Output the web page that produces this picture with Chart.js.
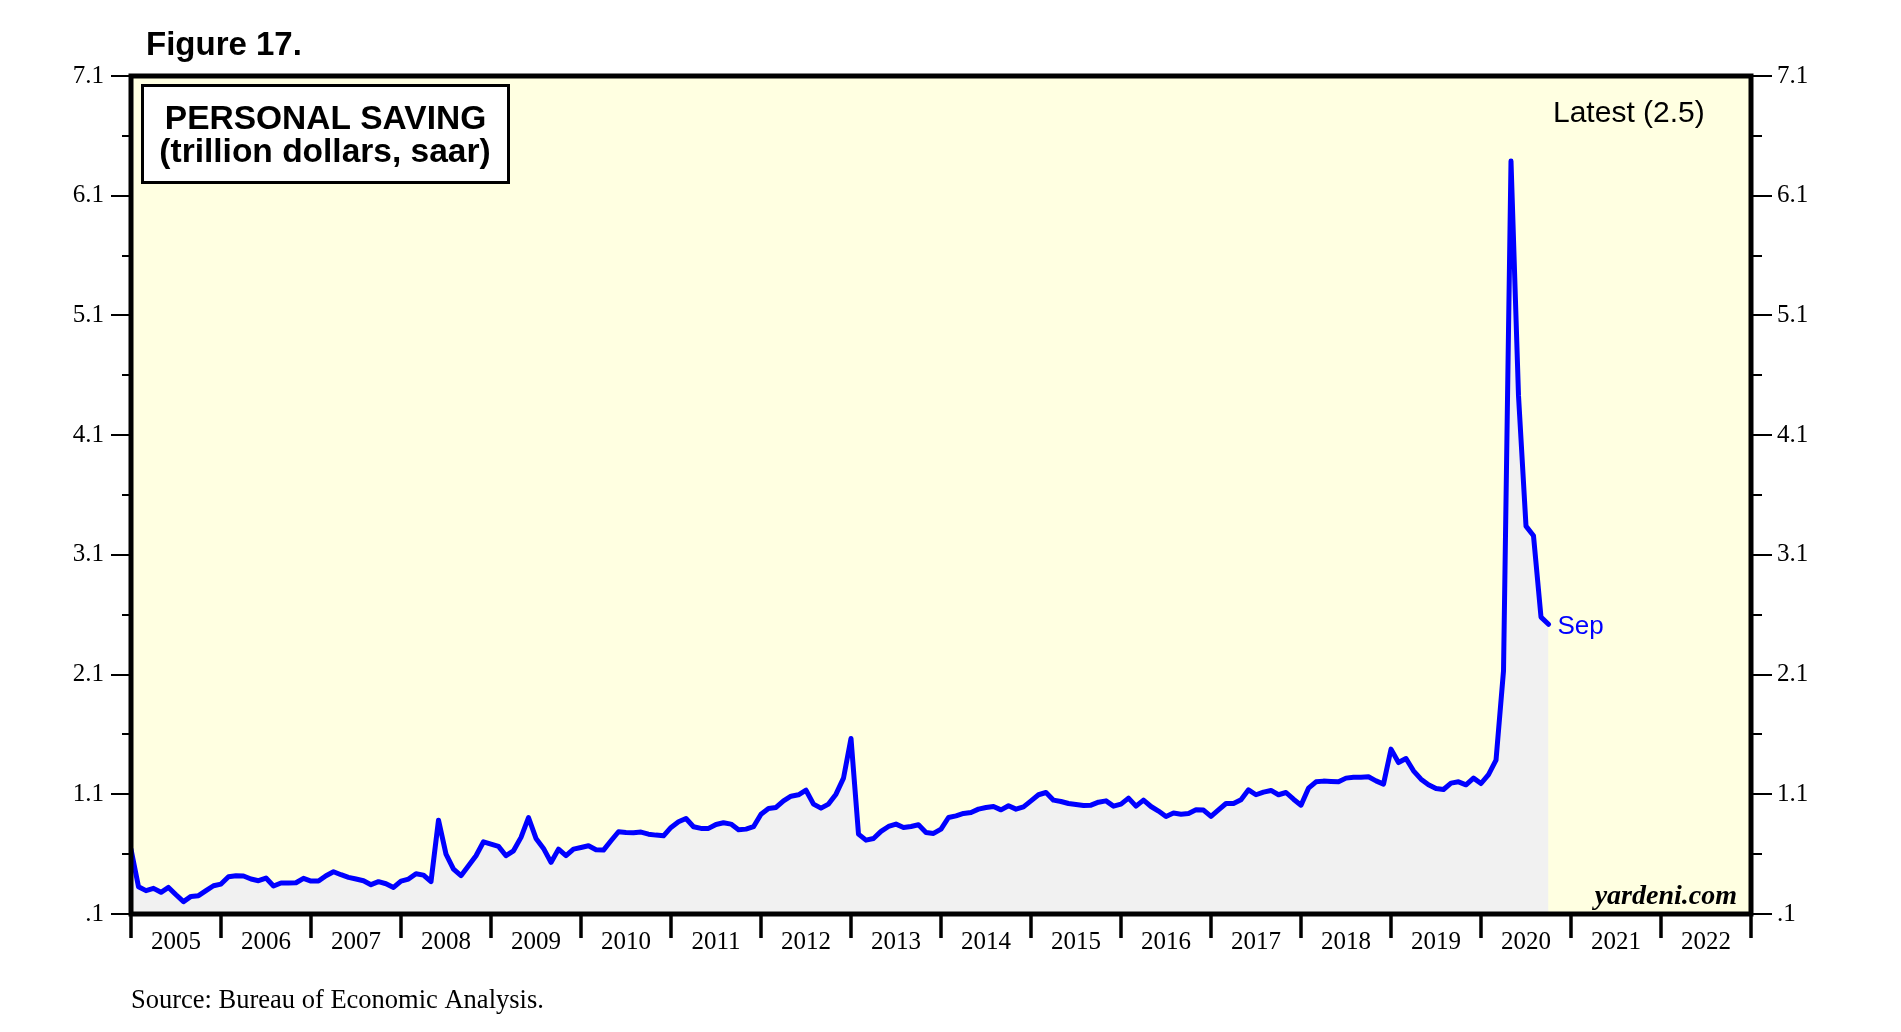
<!DOCTYPE html>
<html><head><meta charset="utf-8">
<script src="https://cdn.jsdelivr.net/npm/chart.js@4.4.1/dist/chart.umd.min.js"></script>
<style>html,body{margin:0;padding:0;background:#fff;overflow:hidden}#wrap{position:relative;width:1901px;height:1032px}canvas{display:block}</style>
</head><body><div id="wrap"><canvas id="c" width="1901" height="1032"></canvas></div>
<script>
// ---- data ----
const startYear = 2004, startMonth = 12; // first observation (month-end)
const saving = [
 0.642,
 0.328,0.295,0.314,0.281,0.322,0.261,0.203,0.247,0.253,0.295,0.336,0.350,
 0.411,0.420,0.417,0.392,0.378,0.400,0.334,0.359,0.359,0.361,0.398,0.375,
 0.375,0.420,0.453,0.428,0.406,0.392,0.378,0.345,0.370,0.353,0.322,0.375,
 0.392,0.436,0.425,0.370,0.884,0.600,0.475,0.420,0.503,0.587,0.703,0.684,
 0.665,0.587,0.628,0.740,0.906,0.731,0.648,0.531,0.642,0.587,0.642,0.656,
 0.670,0.637,0.634,0.712,0.787,0.781,0.779,0.784,0.767,0.759,0.753,0.823,
 0.870,0.898,0.829,0.815,0.815,0.848,0.862,0.851,0.804,0.809,0.829,0.934,
 0.982,0.990,1.045,1.084,1.096,1.134,1.018,0.984,1.018,1.101,1.235,1.566,
 0.767,0.717,0.731,0.790,0.831,0.851,0.823,0.831,0.845,0.781,0.773,0.809,
 0.906,0.920,0.940,0.948,0.976,0.990,0.998,0.970,1.004,0.976,0.995,1.045,
 1.096,1.115,1.051,1.040,1.023,1.015,1.007,1.009,1.034,1.045,1.001,1.018,
 1.068,1.001,1.051,0.998,0.960,0.915,0.943,0.934,0.940,0.970,0.968,0.915,
 0.970,1.023,1.023,1.054,1.137,1.096,1.118,1.132,1.096,1.115,1.059,1.009,
 1.151,1.204,1.210,1.207,1.204,1.235,1.243,1.243,1.246,1.212,1.185,1.477,
 1.365,1.399,1.296,1.226,1.179,1.148,1.140,1.193,1.204,1.179,1.235,1.190,
 1.265,1.385,2.130,6.390,4.430,3.340,3.260,2.580,2.520
];
const months = saving.map((_, i) => {
  const t = startYear * 12 + (startMonth - 1) + i;
  return Math.floor(t / 12) + '-' + String(t % 12 + 1).padStart(2, '0');
});
const yTickValues = [0.1,0.6,1.1,1.6,2.1,2.6,3.1,3.6,4.1,4.6,5.1,5.6,6.1,6.6,7.1];
const yTickLabels = ['.1','','1.1','','2.1','','3.1','','4.1','','5.1','','6.1','','7.1'];
const yearLabels = ['2005','2006','2007','2008','2009','2010','2011','2012','2013','2014','2015','2016','2017','2018','2019','2020','2021','2022'];
const lastMonthName = 'Sep';

// ---- build ----
const points = months.map((m, i) => {
  const [yy, mm] = m.split('-').map(Number);
  return { x: yy + mm / 12, y: saving[i] };
});
const firstYear = Number(yearLabels[0]);
const lastYear = Number(yearLabels[yearLabels.length - 1]) + 1;

const SERIF = '"Liberation Serif","Times New Roman",serif';
const SANS = '"Liberation Sans",Arial,sans-serif';

const yAxisBase = (pos, width, pad) => ({
  type: 'linear', position: pos, min: yTickValues[0], max: yTickValues[yTickValues.length - 1],
  display: true,
  grid: { display: false, drawTicks: false }, border: { display: false },
  afterBuildTicks: s => { s.ticks = yTickValues.map(v => ({ value: v })); },
  afterFit: s => { s.width = width; },
  ticks: { autoSkip: false, padding: pad, color: '#000', font: { family: SERIF, size: 25 },
    callback: (v, i) => yTickLabels[i] }
});

const deco = {
  id: 'deco',
  beforeDraw(chart) {
    const { ctx, chartArea: a } = chart;
    ctx.save();
    ctx.fillStyle = '#ffffe1';
    ctx.fillRect(a.left, a.top, a.right - a.left, a.bottom - a.top);
    ctx.restore();
  },
  afterDraw(chart) {
    const { ctx, chartArea: a, scales } = chart;
    const ys = scales.y, xs = scales.x;
    ctx.save();
    ctx.strokeStyle = '#000';
    // y ticks
    ctx.lineWidth = 2;
    yTickValues.forEach((v, i) => {
      const py = Math.round(ys.getPixelForValue(v));
      const major = yTickLabels[i] !== '';
      ctx.beginPath();
      ctx.moveTo(a.left - (major ? 20 : 9), py); ctx.lineTo(a.left, py);
      ctx.moveTo(a.right, py); ctx.lineTo(a.right + (major ? 21 : 11), py);
      ctx.stroke();
    });
    // x year-boundary ticks
    ctx.lineWidth = 3.5;
    for (let yr = firstYear; yr <= lastYear; yr++) {
      const px = xs.getPixelForValue(yr);
      ctx.beginPath(); ctx.moveTo(px, a.bottom); ctx.lineTo(px, a.bottom + 24); ctx.stroke();
    }
    // frame
    ctx.lineWidth = 5;
    ctx.strokeRect(a.left, a.top, a.right - a.left, a.bottom - a.top);

    // title box
    ctx.fillStyle = '#fff';
    ctx.fillRect(142, 85, 367, 98);
    ctx.lineWidth = 3;
    ctx.strokeRect(142.5, 85.5, 366, 97);
    ctx.fillStyle = '#000';
    ctx.textAlign = 'center'; ctx.textBaseline = 'alphabetic';
    ctx.font = 'bold 33.5px ' + SANS;
    ctx.fillText('PERSONAL SAVING', 325.5, 129);
    ctx.fillText('(trillion dollars, saar)', 325, 162);

    // figure label
    ctx.textAlign = 'left';
    ctx.font = 'bold 33px ' + SANS;
    ctx.fillText('Figure 17.', 146, 55);

    // latest
    const last = saving[saving.length - 1];
    ctx.font = '30px ' + SANS;
    ctx.fillText('Latest (' + last.toFixed(1) + ')', 1553, 122);

    // Sep label at last point
    const lp = points[points.length - 1];
    ctx.fillStyle = '#0000ff';
    ctx.font = '26px ' + SANS;
    ctx.fillText(lastMonthName, xs.getPixelForValue(lp.x) + 9, ys.getPixelForValue(lp.y) + 10);

    // yardeni
    ctx.fillStyle = '#000';
    ctx.textAlign = 'right';
    ctx.font = 'italic bold 28px ' + SERIF;
    ctx.fillText('yardeni.com', 1737, 904);

    // source
    ctx.textAlign = 'left';
    ctx.font = '26.5px ' + SERIF;
    ctx.fillText('Source: Bureau of Economic Analysis.', 131, 1008);
    ctx.restore();
  }
};

new Chart(document.getElementById('c'), {
  type: 'line',
  data: { datasets: [{
    data: points, borderColor: '#0000ff', borderWidth: 5, pointRadius: 0,
    tension: 0, fill: 'start', backgroundColor: '#f1f1f1', borderJoinStyle: 'round', borderCapStyle: 'round'
  }] },
  options: {
    responsive: false, animation: false, devicePixelRatio: 1,
    layout: { padding: { top: 76, left: 0, right: 0, bottom: 0 } },
    plugins: { legend: { display: false }, tooltip: { enabled: false }, title: { display: false } },
    scales: {
      x: {
        type: 'linear', position: 'bottom', min: firstYear, max: lastYear,
        grid: { display: false, drawTicks: false }, border: { display: false },
        afterBuildTicks: s => { s.ticks = yearLabels.map((l, i) => ({ value: firstYear + i + 0.5 })); },
        afterFit: s => { s.height = 1032 - 914; },
        ticks: { autoSkip: false, maxRotation: 0, minRotation: 0, padding: 13, color: '#000',
          font: { family: SERIF, size: 25 }, callback: (v, i) => yearLabels[i] }
      },
      y: yAxisBase('left', 131, 27),
      y2: yAxisBase('right', 1901 - 1751, 26)
    }
  },
  plugins: [deco]
});
</script></body></html>
